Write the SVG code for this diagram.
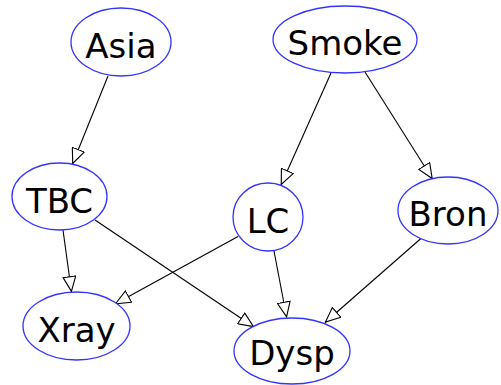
<svg xmlns="http://www.w3.org/2000/svg" width="501" height="385" viewBox="0 0 501 385">
<style>
.n ellipse{fill:#fff;stroke:#3333ff;stroke-width:1.3}
.n text{font-family:"DejaVu Sans",sans-serif;font-size:34px;text-anchor:middle;fill:#000}
.e path{fill:none;stroke:#000;stroke-width:1.1;marker-end:url(#ah)}
</style>
<defs>
<marker id="ah" viewBox="0 0 16 14" refX="16" refY="7" markerWidth="16" markerHeight="14" markerUnits="userSpaceOnUse" orient="auto">
<path d="M0.6,0.6 L15.4,7 L0.6,13.4 Z" fill="#fff" stroke="#000" stroke-width="1.1"/>
</marker>
</defs>
<rect width="501" height="385" fill="#fff"/>
<g id="edges" class="e">
<path d="M108,76 L72.5,164"/>
<path d="M331,73 L281,185"/>
<path d="M365,72 L432.5,179"/>
<path d="M63,230 L71.5,292"/>
<path d="M95,220 L254,327"/>
<path d="M238,236.5 L115,304"/>
<path d="M274,251 L286.7,317.5"/>
<path d="M421.5,238 L325,322.5"/>
</g>
<g id="Asia" class="n"><ellipse cx="121" cy="42" rx="50" ry="34"/><text x="121" y="58">Asia</text></g>
<g id="Smoke" class="n"><ellipse cx="345" cy="39.5" rx="72" ry="33.5"/><text x="345" y="55">Smoke</text></g>
<g id="TBC" class="n"><ellipse cx="59.5" cy="196.5" rx="47.5" ry="33.5"/><text x="59.5" y="212.5">TBC</text></g>
<g id="LC" class="n"><ellipse cx="268" cy="217" rx="35" ry="34"/><text x="268" y="233">LC</text></g>
<g id="Bron" class="n"><ellipse cx="448" cy="210.5" rx="50" ry="33.5"/><text x="448" y="226">Bron</text></g>
<g id="Xray" class="n"><ellipse cx="76.5" cy="326" rx="53.5" ry="34"/><text x="76.5" y="341.5">Xray</text></g>
<g id="Dysp" class="n"><ellipse cx="292" cy="351" rx="58" ry="33"/><text x="292" y="365">Dysp</text></g>
</svg>
